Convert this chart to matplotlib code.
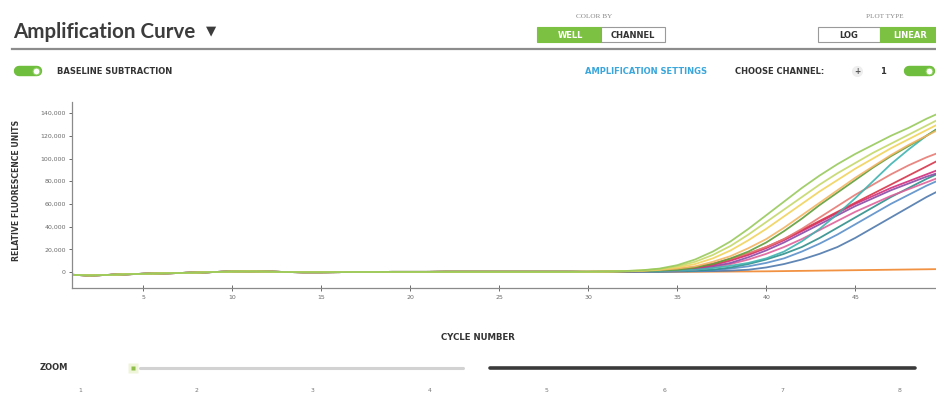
import matplotlib
matplotlib.use("Agg")
import matplotlib.pyplot as plt
from matplotlib.patches import Rectangle
import numpy as np

W, H = 937, 393

# ---------------- data ----------------
cycles = list(range(1, 51))
# shared early baseline (cycles 1..29), thousands of RFU
early_base = [-2.5, -3.0, -2.6, -2.0, -1.6, -1.2, -0.9, -0.5, 0.0, 0.4, 0.5, 0.3, 0.0, -0.2,
              -0.2, -0.1, 0.0, 0.0, 0.1, 0.1, 0.1, 0.2, 0.2, 0.2, 0.2, 0.2, 0.2, 0.2, 0.2]
# late values (cycles 30..50), thousands of RFU
late_A = [0.3, 0.5, 0.8, 1.5, 3, 6, 11, 18, 27, 38, 50, 62, 74, 85, 95, 104, 112, 120, 127, 135, 142]
late_B = [0.3, 0.5, 0.8, 1.4, 2.6, 5, 9, 15, 23, 33, 44, 55, 66, 77, 87, 96, 105, 113, 121, 129, 137]
late_C = [0.2, 0.4, 0.7, 1.2, 2.2, 4, 7, 12, 19, 28, 38, 49, 60, 71, 81, 91, 100, 109, 117, 125, 133]
late_D = [0.2, 0.3, 0.6, 1, 1.8, 3, 5, 9, 14, 21, 29, 39, 50, 61, 72, 83, 93, 103, 112, 120, 128]
late_E = [0.2, 0.3, 0.5, 0.9, 1.4, 2, 4, 7, 12, 18, 26, 36, 47, 59, 70, 81, 92, 102, 111, 120, 130]
late_F = [0.1, 0.2, 0.3, 0.5, 0.8, 1.2, 2, 3.5, 5.5, 8, 12, 18, 27, 38, 51, 65, 80, 95, 108, 120, 130]
late_G = [0.2, 0.3, 0.5, 0.8, 1.3, 2, 4, 7, 11, 16, 22, 29, 37, 45, 53, 61, 69, 77, 85, 93, 101]
late_H = [0.2, 0.3, 0.4, 0.7, 1.1, 1.5, 3, 6, 10, 15, 21, 28, 36, 44, 52, 60, 67, 74, 80, 86, 92]
late_I = [0.1, 0.2, 0.4, 0.6, 1, 1.5, 2.5, 5, 8, 13, 19, 26, 34, 42, 50, 58, 65, 72, 78, 84, 89]
late_J = [0.1, 0.2, 0.3, 0.5, 0.8, 1.2, 2, 4, 7, 11, 16, 22, 29, 37, 45, 53, 60, 67, 73, 79, 85]
late_K = [0.2, 0.3, 0.5, 0.9, 1.5, 2.5, 4.5, 7.5, 11.5, 16.5, 22, 29, 38, 48, 58, 68, 77, 86, 94, 101, 107]
late_L = [0, 0.1, 0.1, 0.2, 0.3, 0.4, 0.6, 0.8, 1.2, 2, 4, 7, 11, 16, 22, 30, 39, 48, 57, 66, 74]
late_M = [0, 0.1, 0.2, 0.3, 0.4, 0.6, 0.9, 1.5, 3, 5, 8, 12, 18, 25, 33, 42, 51, 60, 68, 76, 83]
late_N = [0.1, 0.1, 0.2, 0.3, 0.5, 0.8, 1.2, 2, 4, 7, 11, 16, 22, 30, 39, 48, 57, 66, 74, 82, 89]
late_O = [0, 0, 0, 0, 0, 0.1, 0.2, 0.3, 0.4, 0.5, 0.6, 0.8, 1, 1.2, 1.4, 1.6, 1.8, 2, 2.2, 2.4, 2.6]

series = [late_O, late_L, late_M, late_N, late_J, late_I, late_H, late_G, late_K,
          late_F, late_E, late_D, late_C, late_B, late_A]
colors = ["#f0862e", "#4f79ad", "#5b8fc9", "#2f8f8c", "#e0609a", "#8a4aa6", "#d22c7c",
          "#d8344a", "#e77a74", "#3fb3b0", "#5f9e3a", "#f3b464", "#f0d35c", "#c5d86a", "#98c95c"]

y_ticks = [0, 20000, 40000, 60000, 80000, 100000, 120000, 140000]
x_ticks = [5, 10, 15, 20, 25, 30, 35, 40, 45]
zoom_labels = ["1", "2", "3", "4", "5", "6", "7", "8"]

# ---------------- figure ----------------
fig = plt.figure(figsize=(W / 100, H / 100), dpi=100)
fig.patch.set_facecolor("white")

def fx(px):
    return px / W

def fy(py):
    return 1 - py / H

ax = fig.add_axes([fx(72), fy(288), fx(937 - 72), (288 - 102) / H])
for late, c in zip(series, colors):
    vals = np.array(early_base + late) * 1000.0
    ax.plot(cycles, vals, color=c, lw=1.3, alpha=0.9, solid_capstyle="round")

ax.set_xlim(1, 1 + (937 - 72) / 17.8)
ax.set_ylim(-14100, 149800)
for s in ["top", "right"]:
    ax.spines[s].set_visible(False)
for s in ["left", "bottom"]:
    ax.spines[s].set_color("#8a8a8a")
    ax.spines[s].set_linewidth(0.9)
ax.set_yticks(y_ticks)
ax.set_yticklabels([f"{v:,}" for v in y_ticks])
ax.set_xticks(x_ticks)
ax.tick_params(axis="both", labelsize=4.5, colors="#6a6a6a", length=2.5, width=0.7, pad=2)
ax.tick_params(axis="x", direction="inout", length=4, pad=3)

fig.text(fx(17), fy(190), "RELATIVE FLUORESCENCE UNITS", rotation=90, ha="center", va="center",
         fontsize=5.6, fontweight="bold", color="#333333")
fig.text(fx(478), fy(338), "CYCLE NUMBER", ha="center", va="center",
         fontsize=6.2, fontweight="bold", color="#333333")

# ---------------- header ----------------
fig.text(fx(13), fy(32), "Amplification Curve", ha="left", va="center",
         fontsize=14.8, fontweight="bold", color="#3c3c3c", family=["Lato", "DejaVu Sans"])
fig.text(fx(211), fy(31), "\u25BC", ha="center", va="center",
         fontsize=9.5, color="#3c3c3c", family="DejaVu Sans")
fig.add_artist(plt.Line2D([fx(12), fx(937)], [fy(49), fy(49)], color="#8c8c8c", lw=1.6))

def box(x0, y0, x1, y1, fc, ec):
    fig.add_artist(Rectangle((fx(x0), fy(y1)), fx(x1 - x0), (y1 - y0) / H,
                             facecolor=fc, edgecolor=ec, lw=0.8))

# COLOR BY
fig.text(fx(594), fy(17), "COLOR BY", ha="center", va="center", fontsize=5.2, color="#888888",
         family="Liberation Serif")
box(537, 27, 601, 42, "#7dc142", "#7dc142")
box(601, 27, 665, 42, "white", "#9a9a9a")
fig.text(fx(570), fy(35), "WELL", ha="center", va="center", fontsize=6.0, fontweight="bold", color="white")
fig.text(fx(633), fy(35), "CHANNEL", ha="center", va="center", fontsize=6.0, fontweight="bold", color="#333333")

# PLOT TYPE
fig.text(fx(885), fy(17), "PLOT TYPE", ha="center", va="center", fontsize=5.2, color="#888888",
         family="Liberation Serif")
box(818, 27, 880, 42, "white", "#9a9a9a")
box(880, 27, 940, 42, "#7dc142", "#7dc142")
fig.text(fx(849), fy(35), "LOG", ha="center", va="center", fontsize=6.0, fontweight="bold", color="#333333")
fig.text(fx(910), fy(35), "LINEAR", ha="center", va="center", fontsize=6.0, fontweight="bold", color="white")

# toggles
def toggle(x0, x1, yc):
    fig.add_artist(plt.Line2D([fx(x0 + 5), fx(x1 - 5)], [fy(yc), fy(yc)], color="#6fbe3e",
                              lw=7.5, solid_capstyle="round"))
    fig.add_artist(plt.Line2D([fx(x1 - 6)], [fy(yc)], marker="o", markersize=5.0,
                              markerfacecolor="white", markeredgecolor="#8fcf5e",
                              markeredgewidth=0.8, ls="none"))

toggle(14, 42, 71)
fig.text(fx(57), fy(71), "BASELINE SUBTRACTION", ha="left", va="center", fontsize=6.0,
         fontweight="bold", color="#333333")
fig.text(fx(585), fy(71), "AMPLIFICATION SETTINGS", ha="left", va="center", fontsize=6.0,
         fontweight="bold", color="#3aa6db")
fig.text(fx(735), fy(71), "CHOOSE CHANNEL:", ha="left", va="center", fontsize=6.0,
         fontweight="bold", color="#333333")
fig.add_artist(plt.Line2D([fx(857)], [fy(71)], marker="o", markersize=8,
                          markerfacecolor="#eeeeee", markeredgecolor="none", ls="none"))
fig.text(fx(857), fy(71), "+", ha="center", va="center", fontsize=5.5, fontweight="bold", color="#555555")
fig.text(fx(883), fy(71), "1", ha="center", va="center", fontsize=6.0, fontweight="bold", color="#333333")
toggle(904, 935, 71)

# ---------------- zoom slider ----------------
fig.text(fx(40), fy(368), "ZOOM", ha="left", va="center", fontsize=6.0, fontweight="bold", color="#333333")
fig.add_artist(plt.Line2D([fx(140), fx(463)], [fy(368), fy(368)], color="#d2d2d2", lw=2.2,
                          solid_capstyle="round"))
fig.add_artist(plt.Line2D([fx(490), fx(915)], [fy(368), fy(368)], color="#3a3a3a", lw=2.6,
                          solid_capstyle="round"))
fig.add_artist(plt.Line2D([fx(133)], [fy(368)], marker="s", markersize=7,
                          markerfacecolor="#eef5d8", markeredgecolor="none", ls="none"))
fig.add_artist(plt.Line2D([fx(133)], [fy(368)], marker="s", markersize=3.5,
                          markerfacecolor="#8fbf4a", markeredgecolor="none", ls="none"))
zoom_x = [80, 197, 313, 430, 547, 665, 782, 900]
for lbl, px in zip(zoom_labels, zoom_x):
    fig.text(fx(px), fy(391), lbl, ha="center", va="center", fontsize=4.4, color="#777777")

fig.savefig("out.png", dpi=100, facecolor="white")
